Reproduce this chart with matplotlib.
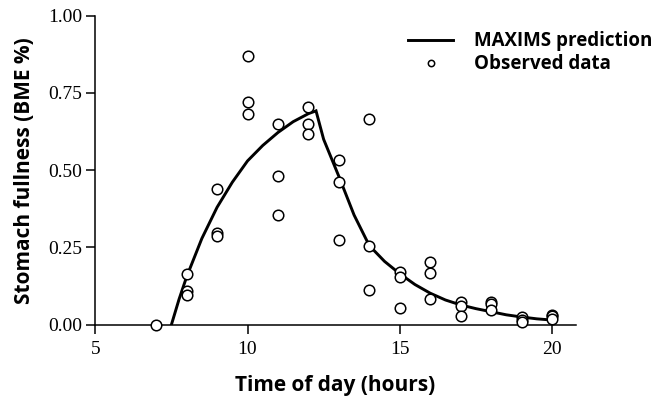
import matplotlib
matplotlib.use("Agg")
import matplotlib.pyplot as plt

# Observed data (hour, stomach fullness)
obs_hours = [7,
             8, 8, 8,
             9, 9, 9,
             10, 10, 10,
             11, 11, 11,
             12, 12, 12,
             13, 13, 13,
             14, 14, 14,
             15, 15, 15,
             16, 16, 16,
             17, 17, 17,
             18, 18, 18,
             19, 19, 19,
             20, 20, 20]
obs_values = [0.0,
              0.163, 0.110, 0.095,
              0.440, 0.296, 0.287,
              0.870, 0.722, 0.681,
              0.650, 0.480, 0.354,
              0.706, 0.650, 0.618,
              0.533, 0.463, 0.273,
              0.667, 0.256, 0.111,
              0.172, 0.155, 0.054,
              0.202, 0.167, 0.082,
              0.075, 0.062, 0.028,
              0.074, 0.067, 0.048,
              0.024, 0.015, 0.010,
              0.033, 0.027, 0.020]

# MAXIMS prediction curve
pred_hours = [7.5, 7.75, 8.0, 8.5, 9.0, 9.5, 10.0, 10.5, 11.0, 11.5, 12.0, 12.25,
              12.5, 13.0, 13.5, 14.0, 14.5, 15.0, 15.5, 16.0, 16.5, 17.0, 17.5,
              18.0, 18.5, 19.0, 19.5, 20.0]
pred_values = [0.0, 0.082, 0.155, 0.279, 0.38, 0.461, 0.53, 0.58, 0.622, 0.657, 0.683, 0.692,
               0.60, 0.48, 0.355, 0.256, 0.205, 0.165, 0.13, 0.102, 0.08, 0.064, 0.052,
               0.042, 0.032, 0.025, 0.019, 0.015]

x_ticks = [5, 10, 15, 20]
y_ticks = [0.00, 0.25, 0.50, 0.75, 1.00]
y_ticklabels = ["0.00", "0.25", "0.50", "0.75", "1.00"]

label_font = "Open Sans"
tick_font = "Liberation Serif"
label_size = 15

fig = plt.figure(figsize=(6.63, 4.04), dpi=100)
ax = fig.add_axes([95.3 / 663, 1 - 324.7 / 404, (575.7 - 95.3) / 663, (324.7 - 15.7) / 404])

ax.plot(pred_hours, pred_values, color="black", lw=2.1, solid_joinstyle="miter",
        label="MAXIMS prediction", zorder=3)
ax.plot(obs_hours, obs_values, linestyle="none", marker="o", markersize=7.6,
        markerfacecolor="white", markeredgecolor="black", markeredgewidth=1.1,
        label="Observed data", clip_on=False, zorder=4)

ax.set_xlim(5, 20.78)
ax.set_ylim(0, 1)
ax.set_xticks(x_ticks)
ax.set_yticks(y_ticks)
ax.set_yticklabels(y_ticklabels)

for s in ["top", "right"]:
    ax.spines[s].set_visible(False)
for s in ["left", "bottom"]:
    ax.spines[s].set_linewidth(1.1)
ax.tick_params(axis="both", direction="out", length=6.5, width=1.1, color="black")
ax.tick_params(axis="y", pad=3)
ax.tick_params(axis="x", pad=5)
for lab in ax.get_xticklabels() + ax.get_yticklabels():
    lab.set_fontfamily(tick_font)
    lab.set_fontsize(14)

ax.set_xlabel("Time of day (hours)", fontfamily=label_font, fontweight="bold", fontsize=label_size)
ax.set_ylabel("Stomach fullness (BME %)", fontfamily=label_font, fontweight="bold", fontsize=label_size)
ax.xaxis.set_label_coords(0.5, -0.163)
ax.yaxis.set_label_coords(-0.126, 0.5)

leg = ax.legend(loc="upper left", bbox_to_anchor=(399 / 663, 1 - 22 / 404),
                bbox_transform=fig.transFigure, frameon=False,
                prop={"family": label_font, "weight": "bold", "size": 13.5},
                handlelength=2.4, handletextpad=1.1, labelspacing=0.15,
                markerscale=0.6, borderpad=0.0)

fig.savefig("out.png", dpi=100)
